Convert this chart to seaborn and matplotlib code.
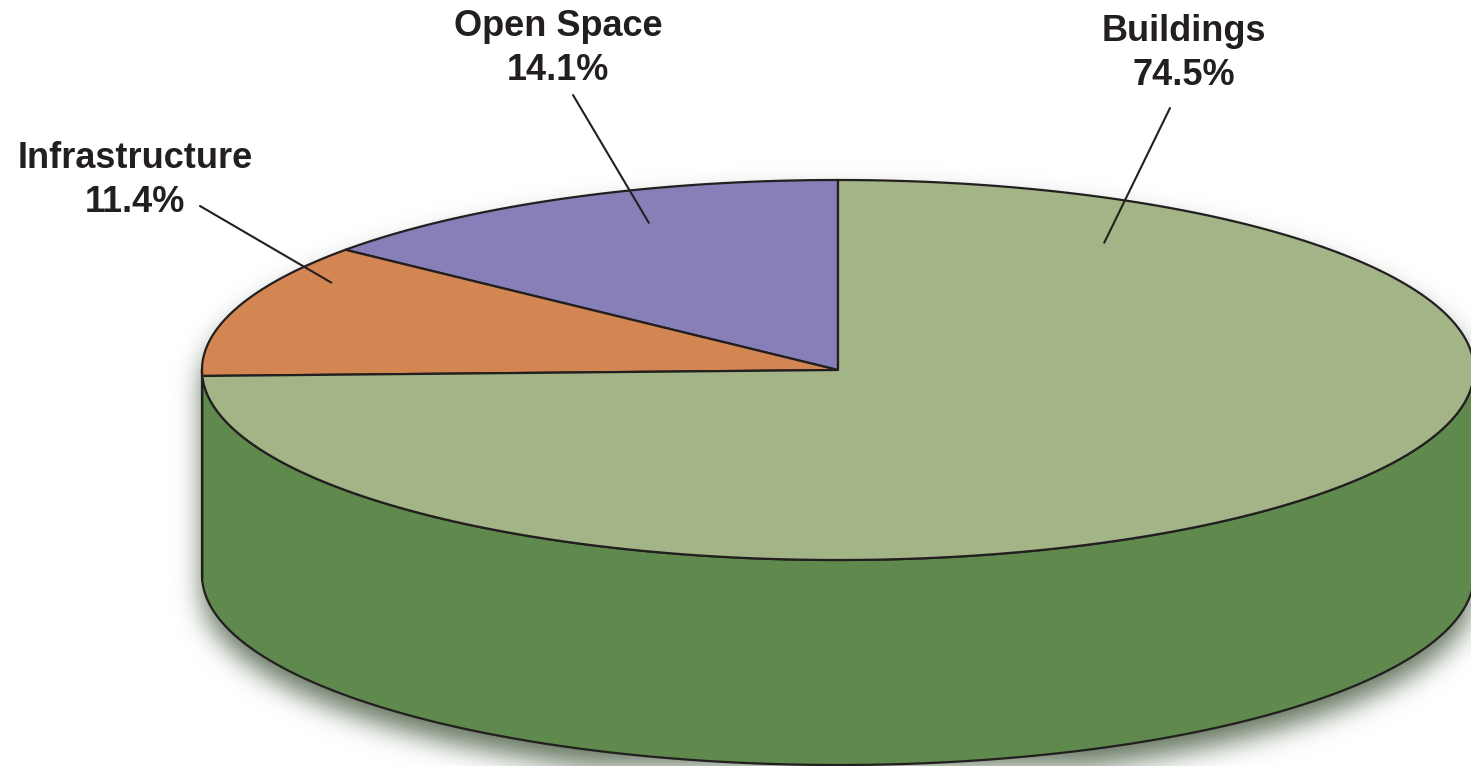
import numpy as np
import matplotlib
matplotlib.use("Agg")
import matplotlib.pyplot as plt
from matplotlib.patches import Polygon
import seaborn as sns

# data
categories = ["Open Space", "Infrastructure", "Buildings"]
shares = [14.1, 11.4, 74.5]
top_colors = ["#877fb7", "#d38652", "#a3b586"]
side_colors = ["#5d5490", "#a35f30", "#5f894d"]

# label layout: (text centre x, first baseline y, leader start, anchor angle deg, anchor radius frac)
label_layout = {
    "Open Space": (558, 36, (573, 95), 111, 0.83),
    "Infrastructure": (135, 168, (200, 206), 150, 0.92),
    "Buildings": (1184, 41, (1170, 108), 58, 0.79),
}

# pie geometry in pixel space
W, H = 1471, 766
cx, cy = 838, 370
rx, ry = 636, 190
depth = 205

sns.set_theme(style="white")
plt.rcParams["font.family"] = ["Liberation Sans", "DejaVu Sans"]

fig = plt.figure(figsize=(W / 100, H / 100), dpi=100)
ax = fig.add_axes([0, 0, 1, 1])
ax.set_xlim(0, W)
ax.set_ylim(H, 0)
ax.axis("off")


def ell(t, dy=0.0, frac=1.0):
    t = np.radians(t)
    return cx + frac * rx * np.cos(t), cy - frac * ry * np.sin(t) + dy


# soft drop shadow under the cylinder
yy, xx = np.mgrid[0:H, 0:W].astype(float)
shift = 16
inside_top = ((xx - cx) / rx) ** 2 + ((yy - cy - shift) / ry) ** 2 <= 1
inside_bot = ((xx - cx) / rx) ** 2 + ((yy - cy - depth - shift) / ry) ** 2 <= 1
inside_mid = (np.abs(xx - cx) <= rx) & (yy >= cy + shift) & (yy <= cy + depth + shift)
mask = (inside_top | inside_bot | inside_mid).astype(float)
pad = 80
m = np.pad(mask, pad)
sigma = 13
ky = np.fft.fftfreq(m.shape[0])[:, None]
kx = np.fft.rfftfreq(m.shape[1])[None, :]
g = np.exp(-2 * np.pi ** 2 * sigma ** 2 * (kx ** 2 + ky ** 2))
blur = np.fft.irfft2(np.fft.rfft2(m) * g, s=m.shape)[pad:-pad, pad:-pad]
shadow = np.zeros((H, W, 4))
shadow[..., 0] = 0.42
shadow[..., 1] = 0.49
shadow[..., 2] = 0.40
shadow[..., 3] = np.clip(blur * 1.15, 0, 1) * 0.9
ax.imshow(shadow, extent=(0, W, H, 0), origin="upper", zorder=0, interpolation="bilinear")

# wedge angles, counter-clockwise from 12 o'clock
angles = 90 + np.concatenate([[0], np.cumsum(shares)]) * 3.6

edge = dict(edgecolor="#231f20", linewidth=1.6, joinstyle="round")

# visible side walls (front half 180..360)
for i, name in enumerate(categories):
    a0, a1 = angles[i], angles[i + 1]
    for off in (0, 360, -360):
        lo, hi = max(a0 + off, 180), min(a1 + off, 360)
        if hi > lo:
            t = np.linspace(lo, hi, 200)
            xt, yt = ell(t)
            xb, yb = ell(t[::-1], dy=depth)
            pts = np.column_stack([np.concatenate([xt, xb]), np.concatenate([yt, yb])])
            ax.add_patch(Polygon(pts, closed=True, facecolor=side_colors[i], zorder=2, **edge))

# top faces
for i, name in enumerate(categories):
    t = np.linspace(angles[i], angles[i + 1], 400)
    xt, yt = ell(t)
    pts = np.column_stack([np.concatenate([[cx], xt]), np.concatenate([[cy], yt])])
    ax.add_patch(Polygon(pts, closed=True, facecolor=top_colors[i], zorder=3, **edge))

# labels with leader lines
for name, val in zip(categories, shares):
    tx, ty, start, ang, frac = label_layout[name]
    ax.text(tx, ty, name, ha="center", va="baseline", fontsize=26,
            fontweight="bold", color="#231f20", zorder=5)
    ax.text(tx, ty + 44, f"{val:.1f}%", ha="center", va="baseline", fontsize=26,
            fontweight="bold", color="#231f20", zorder=5)
    ex, ey = ell(ang, frac=frac)
    ax.plot([start[0], ex], [start[1], ey], color="#231f20", linewidth=1.5, zorder=4)

fig.savefig("out.png", dpi=100)
